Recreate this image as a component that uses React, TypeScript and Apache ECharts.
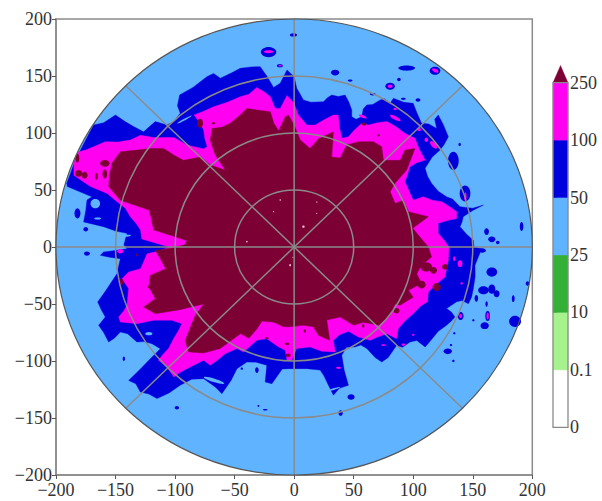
import React, { useEffect, useRef } from "react";
import * as echarts from "echarts";

const axisTicks = [-200, -150, -100, -50, 0, 50, 100, 150, 200];
const rings = [50, 100, 150];
const levels = ["0", "0.1", "10", "25", "50", "100", "250"];
const levelColors = ["#ffffff", "#a6f28c", "#33b035", "#60b4ff", "#0000dc", "#ff00f0"];
const overColor = "#7d0035";

const blueOutline = [
  [0,149.4],[2.2,139.2],[4,136],[7.8,129],[14,127],[24.6,127.5],[28,131],[31.6,133.3],[37,132],[42.8,133.3],[46,127],[48.4,120.2],[48.4,114.3],[52,112],[56.8,114.3],[58,121],[61,124.6],
  [66,125],[72.2,129],[76,130],[80.6,126],[83.4,130.4],[92,127],[100,126],[103,118],[107,108.5],[113,108],[119.7,104],[118,112],[121,115.8],[125,108],[129.5,96.8],[126,90],[122.5,85],[116,79],[110,69],
  [112,62],[115.5,55.8],[121,49],[128,44],[133,42],[139.3,35.4],[150,34],[158.9,36.8],[150,32],[142,26.6],[141,22],[139.3,17.8],[145,11],[150.5,6],[151,0],[157.5,-1.5],[155,-8],[151.9,-16],
  [152,-26],[150.5,-36.5],[149,-44],[146.3,-49.7],[141,-47],[136.5,-48],[128,-54],[132,-57],[135,-61.4],[132,-65],[128,-68.7],[121,-74],[114,-83],[110,-87.7],[103,-82],[97.3,-83.3],[91,-88],[86,-86.3],
  [79,-97],[73.6,-100.9],[68,-97],[61,-89],[56,-86],[51,-87.7],[44,-88],[40,-95],[42,-108],[45.6,-121.3],[38,-124],[33,-130],[28.8,-121.3],[25,-113],[21.8,-108],[10.6,-106.7],[-3.4,-106.7],
  [-10,-107],[-14,-113],[-18.7,-119.9],[-24.3,-118.4],[-23,-103.8],[-32,-101],[-39.7,-100.9],[-48,-106.7],[-53,-117],[-60.7,-128.7],[-66,-123],[-76,-115.5],[-86,-116],[-95.7,-121.3],[-105,-128],[-115.2,-133],[-122,-129],[-129.2,-127.2],
  [-133,-120],[-139,-117],[-130,-108],[-120.8,-98],[-112.4,-89.2],[-119.4,-84.8],[-126,-83],[-132,-83.3],[-140,-76],[-146,-74.6],[-151,-80],[-155.8,-83.3],[-160,-75],[-164.2,-68.7],[-158.6,-61.4],[-162,-55],[-165,-48.2],
  [-158,-38],[-151.6,-27.8],[-148.8,-23.4],[-146,-10.2],[-155,-9],[-162.8,-7.3],[-160,-4.4],[-150,-3],[-140.4,-1.5],[-143,1.8],[-140.4,12],[-150,14],[-160,17.8],[-176.8,22],
  [-175,32],[-174,41.2],[-169.8,44],[-190.5,53],[-191,56],[-188,64],[-184,76],[-178,88],[-174,96],[-168.4,107],[-160,109],[-150,115.8],[-142,110],[-134.8,105.6],
  [-126.4,101],[-120,107],[-116.6,110],[-106.9,107],[-101,110],[-95.7,117.3],[-98,124],[-96.2,133.3],[-85,140],[-73.3,149.4],[-67.7,152.3],[-62,148],[-52,153],[-45.3,156.7],[-36,158],[-28.5,158.2],
  [-23,150],[-17.3,140],[-11.7,143.6],[-6,155.3],
];

const magentaOutline = [
  [0,126],[3.6,115.8],[10.6,107],[17.6,107],[26,112],[33,115.8],[37,115.8],[38,105],[40,95.3],[45.6,96.8],[50,102],[56.8,108.5],[62.4,107],
  [70,109],[77.8,110],[85,106],[93,99.7],[101.5,95.3],[105,86],[110,76.3],[103,74],[97.3,70.5],[95,63],[93,57.3],[97,48],[100,41],[108.5,44],[116,41],[124,39.8],[131,35],[136.5,31],
  [136.5,25],[128,23],[121,20.8],[121,12],[126,6],[130,0],[129.5,-11.7],[128,-19],[126.7,-26.3],[119,-33],[112.7,-39.5],[112,-48],[106,-52],[100,-58.5],
  [93,-65],[87.5,-71.6],[86,-80.4],[77.8,-76],[70,-79],[63.8,-81.9],[54,-79],[45.6,-74],[38,-77],[33,-81.9],[34.4,-92],[23.2,-91.5],[13.4,-87.7],
  [2.2,-89],[-2,-99.4],[-6,-99.4],[-7.5,-90.6],[-13,-87.7],[-23,-80.4],[-31.3,-81.9],[-37,-87],[-42.5,-92],[-48,-89],[-58,-93.6],
  [-64,-99],[-70.5,-103.8],[-76,-99.4],[-83,-103],[-90,-106.7],[-96,-110],[-101,-114],[-107,-105],[-114,-99.4],[-110,-94],[-105.5,-89],[-101,-80],[-97,-73],[-94.3,-67.3],[-102.7,-64.3],
  [-118,-64.3],[-132,-67.3],[-146,-65.8],[-147.4,-61.4],[-143,-56],[-140.4,-51],[-139,-36.5],[-144.6,-27.8],[-139,-22],[-129,-19],[-126,-12],[-123.6,-6],
  [-112,-3],[-105,0],[-118,4],[-128,7],[-129,15],[-133,21],[-137.6,26.6],[-141.8,34],[-148.8,39.8],[-157,47],[-171,53],[-178,58],
  [-185,63],[-185,73.4],[-181,83.6],[-175,85],[-166,89],[-158.6,92.4],[-148,92],[-137.6,93.9],[-129,98],[-118,96],[-101,96],[-90,89.5],
  [-76,86],[-73,88],[-75,95],[-76,102.6],[-80,110],[-84,115.8],[-76,119],[-67.7,123],[-56,127],[-45.3,131.9],[-38,134],[-31.3,140],[-25,136],[-20,131.9],[-16,121.6],[-11.7,121.6],
  [-6,133],
];

const maroonOutline = [
  [0,107],[5,94],[13.4,86.5],[20.4,95],[33,101],[31.6,79],[38.6,78],[44,89.5],[54,92.4],[66.6,92.4],
  [73.6,88],[75,76],[89,76],[93,85],[101.5,86.5],[94.5,67.5],[84.8,56],[80.6,48.5],[84.8,38.3],[91.7,41],
  [96,31],[112.7,26.6],[99.6,16.4],[112.7,0],[115.5,-8.8],[107,-16],[103,-23.4],[107,-32],[96,-38],[100,-44],
  [89,-51],[84.8,-50],[80.6,-60],[70.8,-68.7],[58,-66],[50,-68.7],[38.6,-61.4],[27.4,-64],[30,-82],[20.4,-77.5],
  [16,-70],[7.8,-68.7],[-3.4,-70],[-9,-70],[-17,-66],[-27,-65],[-31,-71.6],[-38,-80],[-45,-76],[-54,-83],[-62,-89],
  [-76,-93],[-88.7,-92],[-91.5,-82],[-87,-70],[-83,-60],[-76,-50],[-96,-55],[-116.6,-58.5],[-126.4,-52.6],[-116.6,-45.3],[-122,-35],[-120.8,-24.9],
  [-108,-19],[-112.4,-10.2],[-116.6,-3],[-104,-1],[-92,2],[-90,5.5],[-100,9],[-118,15],[-120,25],[-122,32.5],[-135,37],[-146,41],
  [-155.8,53],[-155,63],[-153,73.4],[-146,83.6],[-132,85],[-120.8,86.5],[-109.7,86.5],[-100,80],[-92.9,76],[-78.9,79],[-70.5,72],[-58,67.5],
  [-66.3,80.7],[-70.5,93.9],[-69,104],[-61,105],[-53.7,108.5],[-45.3,115.8],[-39.7,121.6],[-30,120],[-20,118.7],[-17,108.5],[-13,102],[-7.5,114.3],
  [-4.8,115.8],
];

// [x, y, radius x, radius y, tilt]
const blueSpots = [
  [-0.6,186,3,1.5,0],[-21.5,171,6.5,4.5,0],[-12,159,2.5,1.5,0],[-182,29.5,2.5,4.5,0],[-175,15.5,2,2,0],
  [34.4,153,3.5,2.5,0],[47,146,2,1,0],[80.6,141,4,3,0],[88,147,1.5,1.5,0],[94.5,157,7,2.3,0],
  [118.3,154.7,4.5,3.5,0],[104,129,2,1.5,0],[91.7,130,2,1,0],[66,134,2.5,1,0],[133.7,75.6,4.5,8,0],
  [143.5,47,4.5,7,0],[191,18,1.5,4,0],[161.6,13.5,2,3,0],[166,6.7,3,2.5,0],[171,4,1.5,1.5,0],
  [139,90,1,1.5,0],[166,-22,4.5,4,0],[159,-38,4.5,3.5,0],[166,-37,3,4,0],[170,-41,2.5,3,0],
  [153,-45,1.5,3,0],[161.6,-50,1,2.5,0],[184,-45.3,1.2,3,0],[196,-32,1.5,2,0],[185.5,-65.2,5,5,0],
  [160,-69,3.5,3,0],[162.5,-60.5,2,4.5,0],[139.8,-60.5,2.5,3.5,0],[129,-91.5,3.5,2.5,0],[133.7,-100,1,1,0],
  [131.7,-86,1,1,0],[158,-3,3,2,0],[47.8,-131.6,3,2.5,0],[39,-145.6,1.8,2.5,0],[150.5,-64.3,1,1,0],
  [134.5,-75.7,1,1,0],[-174,-5.8,2.5,1.8,0],[-98.5,-141,1.8,1.5,0],[-24.3,-142.7,2,0.7,0],[-30,-139.5,0.8,0.8,0],
  [-143,-98,1,2,0],[-44,-106.7,1,1,0],[-31.3,-108,1.5,2.5,0],
];
const holeSpots = [
  [-167,38,4,4,0],[-67,-117,9,1.5,-0.3],[-122,-76,3,1.5,0],[33,-125,6,0.8,0.3],[-145,10,8,1.2,0],[-92,112,7,0.7,0.5],[-165,25,3,0.9,0],
];
const magentaSpots = [
  [-21.5,171.3,4,1.3,0],[-12,159,1,0.8,0],[80.6,141,2,1.5,0],[118.3,154.7,3,1.5,-0.5],[143.8,44,1,4,0],
  [57.6,114.3,3.5,1.2,-0.4],[84.8,113,5,1.5,-0.5],[84.8,121,1.5,1,0],[111,94,1.5,2,0],[117,89.5,4,2,-0.8],
  [105,103,1.5,1.5,0],[134.5,-10.2,1,2,0],[139.3,-14.6,2,3,0],[37.2,-106,2,1,0],[75,-86,2,0.8,0],
  [91.7,-85.7,1.5,1,0],[100,-77,1,1,0],[140.7,-32,1,1,0],[162.5,-60.5,1,3,0],[139.8,-60.5,1.2,2,0],
  [-146,-3.8,2.5,2,0],
];
const maroonSpots = [
  [-145,-30.7,1.5,3,0],[-79,108.5,2.5,4,0],[-182,77.8,1.5,4,0],[-181,64.6,3,3,0],[-176,63,2.5,3,0],
  [-166,62,1.2,3,0],[-159,73.4,4,3,0],[-148,76,2,3,0],[-159,64,2,4,0],[-67.7,108.5,1.5,1,0],
  [58.7,107.8,2,1.5,0],[71,98,1,1,0],[111,-17.5,5,4,0],[117,-20.5,3,3,0],[126.7,-17.5,2.5,2.5,0],
  [107,-33,3.5,3.5,0],[119.7,-35,3.5,3.5,0],[86,-56,2.5,2.5,0],[58,-69,1,2,0],[9,-73.6,1,1.5,0],
  [-6,-85,2,1,0],[-23,-80,1.5,0.8,0],[-5,-95,2,1.5,0],[-132,-6.7,1,1,0],[-122,-35,1,1,0],
];
const speckSpots = [
  [-11.7,41.2,0.7,0.7,0],[-39.7,4.7,0.7,0.7,0],[-17.3,31,0.5,0.5,0],[19,39.5,0.7,0.5,0],[7.8,17.8,1,1,0],
  [19,29.5,0.5,0.5,0],[-3.4,-16,0.7,1,0],[-1,-9,0.5,0.5,0],
];

const gridColor = "#8a8a8a";
const edgeColor = "#555555";
const textColor = "#333333";
const fontFamily = "Liberation Serif";

type Pair = number[];

const polygonOf = (api: any, pts: Pair[], fill: string) => ({
  type: "polygon",
  shape: { points: pts.map((p) => api.coord(p)) },
  style: { fill, stroke: fill, lineWidth: 0.4 },
  silent: true,
});

const spotsOf = (api: any, spots: number[][], fill: string) =>
  spots.map(([x, y, rx, ry, tilt]) => {
    const c = api.coord([x, y]);
    const e = api.coord([x + rx, y + ry]);
    return {
      type: "ellipse",
      shape: { cx: c[0], cy: c[1], rx: Math.abs(e[0] - c[0]), ry: Math.abs(e[1] - c[1]) },
      rotation: tilt,
      originX: c[0],
      originY: c[1],
      style: { fill },
      silent: true,
    };
  });

const ringOf = (api: any, r: number, fill: string, stroke: string, lineWidth: number) => {
  const c = api.coord([0, 0]);
  const e = api.coord([r, r]);
  return {
    type: "ellipse",
    shape: { cx: c[0], cy: c[1], rx: Math.abs(e[0] - c[0]), ry: Math.abs(e[1] - c[1]) },
    style: { fill, stroke, lineWidth },
    silent: true,
  };
};

const spokes = [
  [[-200, 0], [200, 0]],
  [[0, -200], [0, 200]],
  [[-141.4, -141.4], [141.4, 141.4]],
  [[-141.4, 141.4], [141.4, -141.4]],
];

const renderPlot = (_: any, api: any) => ({
  type: "group",
  children: [
    ringOf(api, 200, levelColors[3], "none", 0),
    polygonOf(api, blueOutline, levelColors[4]),
    ...spotsOf(api, blueSpots, levelColors[4]),
    ...spotsOf(api, holeSpots, levelColors[3]),
    polygonOf(api, magentaOutline, levelColors[5]),
    ...spotsOf(api, magentaSpots, levelColors[5]),
    polygonOf(api, maroonOutline, overColor),
    ...spotsOf(api, maroonSpots, overColor),
    ...spotsOf(api, speckSpots, "#f3c9d8"),
    ...rings.map((r) => ringOf(api, r, "none", gridColor, 1.5)),
    ...spokes.map(([a, b]) => {
      const p = api.coord(a);
      const q = api.coord(b);
      return {
        type: "line",
        shape: { x1: p[0], y1: p[1], x2: q[0], y2: q[1] },
        style: { stroke: gridColor, lineWidth: 1.5 },
        silent: true,
      };
    }),
    ringOf(api, 200, "none", edgeColor, 1.2),
  ],
});

const renderBar = (_: any, api: any) => {
  const top = levelColors.length;
  const children: any[] = levelColors.map((fill, i) =>
    polygonOf(api, [[0, i], [1, i], [1, i + 1], [0, i + 1]], fill)
  );
  children.push(polygonOf(api, [[0, top], [1, top], [0.5, top + 0.3]], overColor));
  const a = api.coord([0, 0]);
  const b = api.coord([1, top]);
  children.push({
    type: "rect",
    shape: { x: a[0], y: b[1], width: b[0] - a[0], height: a[1] - b[1] },
    style: { fill: "none", stroke: gridColor, lineWidth: 1.3 },
    silent: true,
  });
  return { type: "group", children };
};

const labelStyle = { color: textColor, fontFamily, fontSize: 18 };
const tickFormatter = (v: number) => String(v).replace("-", "\u2212");

const plotAxis = {
  type: "value",
  min: axisTicks[0],
  max: axisTicks[axisTicks.length - 1],
  interval: 50,
  splitLine: { show: false },
  axisLine: { onZero: false, lineStyle: { color: gridColor, width: 1.5 } },
  axisTick: { length: 4, lineStyle: { color: edgeColor, width: 1 } },
  axisLabel: { ...labelStyle, showMinLabel: true, showMaxLabel: true, hideOverlap: false, formatter: tickFormatter },
};

export default function App() {
  const ref = useRef<HTMLDivElement>(null);
  useEffect(() => {
    if (!ref.current) return;
    const chart = echarts.init(ref.current, undefined, { renderer: "svg" });
    chart.setOption({
      animation: false,
      backgroundColor: "#ffffff",
      grid: [
        { left: 56, top: 19, width: 476.3, height: 456, show: true, borderColor: gridColor, borderWidth: 1.5, backgroundColor: "transparent" },
        { left: 553, top: 82.7, width: 15, height: 344.6, show: false },
      ],
      xAxis: [
        { ...plotAxis, gridIndex: 0, axisLabel: { ...plotAxis.axisLabel, margin: 6 } },
        { type: "value", gridIndex: 1, min: 0, max: 1, show: false },
      ],
      yAxis: [
        { ...plotAxis, gridIndex: 0, axisLabel: { ...plotAxis.axisLabel, margin: 4, verticalAlign: "bottom", lineHeight: 16, padding: [0, 0, -8, 0] } },
        {
          type: "value",
          gridIndex: 1,
          min: 0,
          max: levels.length - 1,
          interval: 1,
          position: "right",
          splitLine: { show: false },
          axisLine: { show: false },
          axisTick: { length: 4, lineStyle: { color: edgeColor, width: 1 } },
          axisLabel: { ...labelStyle, margin: 2, formatter: (v: number) => levels[v] ?? "" },
        },
      ],
      series: [
        { type: "custom", xAxisIndex: 0, yAxisIndex: 0, clip: false, silent: true, data: [[0, 0]], renderItem: renderPlot, z: 5 },
        { type: "custom", xAxisIndex: 1, yAxisIndex: 1, clip: false, silent: true, data: [[0, 0]], renderItem: renderBar, z: 5 },
      ],
    });
    return () => chart.dispose();
  }, []);
  return <div ref={ref} style={{ position: "fixed", left: 0, top: 0, width: 602, height: 501 }} />;
}
